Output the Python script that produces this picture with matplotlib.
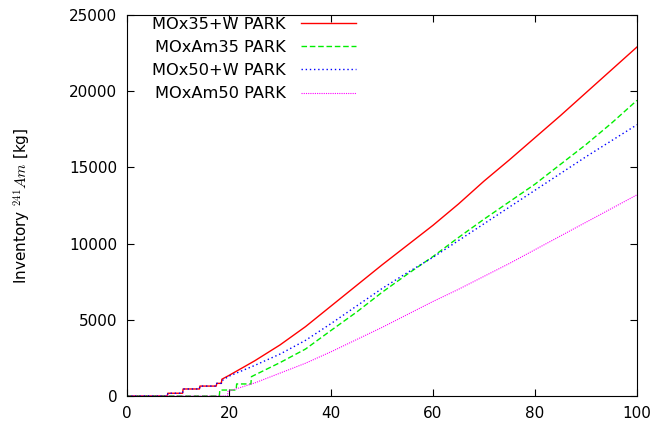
import matplotlib
matplotlib.use("Agg")
from matplotlib import pyplot as plt

# years and Am-241 inventory [kg]
x_mox35w = [0, 7.9, 8, 10.9, 11, 14.2, 14.3, 17.5, 17.6, 18.5, 18.6, 20, 25, 30, 35, 40, 45, 50, 55, 60, 65, 70, 75, 80, 85, 90, 95, 100]
y_mox35w = [0, 0, 180, 180, 460, 460, 650, 650, 830, 830, 1100, 1350, 2300, 3350, 4550, 5900, 7250, 8600, 9900, 11200, 12600, 14100, 15500, 16950, 18400, 19900, 21400, 22900]

x_moxam35 = [0, 18.1, 18.2, 21.4, 21.5, 24.3, 24.4, 30, 35, 40, 45, 50, 55, 60, 65, 70, 75, 80, 85, 90, 95, 100]
y_moxam35 = [0, 0, 390, 390, 790, 790, 1270, 2190, 3080, 4300, 5500, 6800, 8000, 9150, 10400, 11600, 12750, 13900, 15200, 16500, 17900, 19400]

x_mox50w = [0, 7.9, 8, 10.9, 11, 14.2, 14.3, 17.5, 17.6, 18.5, 18.6, 20, 25, 30, 35, 40, 45, 50, 55, 60, 65, 70, 75, 80, 85, 90, 95, 100]
y_mox50w = [0, 0, 180, 180, 460, 460, 650, 650, 830, 830, 1000, 1300, 2000, 2750, 3650, 4750, 5900, 7050, 8100, 9100, 10200, 11300, 12400, 13500, 14600, 15700, 16750, 17800]

x_moxam50 = [0, 19.7, 19.8, 25, 30, 35, 40, 45, 50, 55, 60, 65, 70, 75, 80, 85, 90, 95, 100]
y_moxam50 = [0, 0, 300, 850, 1500, 2150, 2900, 3700, 4500, 5350, 6200, 7000, 7850, 8700, 9600, 10500, 11400, 12300, 13200]

plt.rcParams['mathtext.fontset'] = 'cm'
plt.rcParams['font.family'] = ['DejaVu Sans']

fig = plt.figure(figsize=(6.55, 4.21), dpi=100)
ax = fig.add_axes([0.1939, 0.0594, 0.9725 - 0.1939, 0.9644 - 0.0594])

ax.plot(x_mox35w, y_mox35w, color='#ff0000', lw=1.0, ls='-', label='MOx35+W PARK')
ax.plot(x_moxam35, y_moxam35, color='#00ee00', lw=1.0, ls=(0, (4, 2)), label='MOxAm35 PARK')
ax.plot(x_mox50w, y_mox50w, color='#0000ff', lw=1.0, ls=(0, (1, 2)), label='MOx50+W PARK')
ax.plot(x_moxam50, y_moxam50, color='#ff00ff', lw=0.8, ls=(0, (1, 1)), label='MOxAm50 PARK')

ax.set_xlim(0, 100)
ax.set_ylim(0, 25000)
ax.set_xticks([0, 20, 40, 60, 80, 100])
ax.set_yticks([0, 5000, 10000, 15000, 20000, 25000])
ax.tick_params(direction='in', top=True, right=True, length=5, labelsize=11, pad=7)
ax.set_ylabel('Inventory $^{241}Am$ [kg]', fontsize=11, labelpad=26)

leg = ax.legend(loc='upper left', frameon=False, markerfirst=False, fontsize=11.7,
                handlelength=3.4, handletextpad=0.9, labelspacing=0.5,
                borderaxespad=0.0, bbox_to_anchor=(0.037, 1.012))

fig.savefig('out.png', dpi=100)
